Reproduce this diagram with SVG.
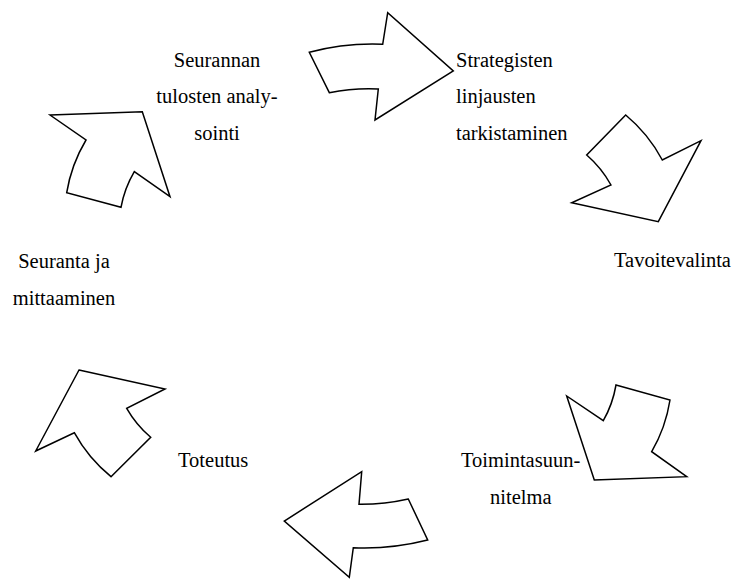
<svg xmlns="http://www.w3.org/2000/svg" width="737" height="579" viewBox="0 0 737 579">
<rect width="737" height="579" fill="#ffffff"/>
<g id="connectors" fill="#ffffff" stroke="#000000" stroke-width="1.5">
<path id="arrow-top" d="M309.3,52.3 A246,246 0 0,1 382.7,44.3 L387.7,12.7 L453.3,71 L375,120 L378.3,89 A201,201 0 0,0 329.3,92.7 Z"/>
<path id="arrow-topright" d="M625.7,115 A150,150 0 0,1 662.3,160 L701,140.7 L658.3,221.7 L571.7,202.7 L611,185 A110,110 0 0,0 586.7,155 Z"/>
<path id="arrow-bottomright" d="M616,385 L670,400 A150,150 0 0,1 651.7,451.7 L686.7,476.7 L594.3,480 L566.7,396 L603.3,420.7 A110,110 0 0,0 616,385 Z"/>
<path id="arrow-bottom" d="M361.7,471.7 L359,504.3 A214,214 0 0,0 408.3,499 L427.7,540 A256,256 0 0,1 353.3,547.7 L349.3,577.3 L284.3,521 Z"/>
<path id="arrow-bottomleft" d="M79,370 L165,389 L126.7,408.3 A110,110 0 0,0 150.7,437.3 L111,476.7 A150,150 0 0,1 74.3,432.7 L35.7,451 Z"/>
<path id="arrow-topleft" d="M50,115 L142.3,111.7 L170,196.7 L134.3,171.7 A110,110 0 0,0 121,207.3 L66.7,192.7 A150,150 0 0,1 86,140 Z"/>
</g>
<g id="node-strategiset">
<text x="456" y="66.5" font-family="Liberation Serif" font-size="20.5">Strategisten</text>
<text x="456" y="103" font-family="Liberation Serif" font-size="20.5">linjausten</text>
<text x="456" y="139.5" font-family="Liberation Serif" font-size="20.5">tarkistaminen</text>
</g>
<g id="node-tavoitevalinta">
<text x="614" y="267" font-family="Liberation Serif" font-size="20.5">Tavoitevalinta</text>
</g>
<g id="node-toimintasuunnitelma">
<text x="461" y="467" font-family="Liberation Serif" font-size="20.5">Toimintasuun-</text>
<text x="490" y="503.5" font-family="Liberation Serif" font-size="20.5">nitelma</text>
</g>
<g id="node-toteutus">
<text x="178" y="467" font-family="Liberation Serif" font-size="20.5">Toteutus</text>
</g>
<g id="node-seuranta">
<text x="64" y="268" font-family="Liberation Serif" font-size="20.5" text-anchor="middle">Seuranta ja</text>
<text x="64" y="304.5" font-family="Liberation Serif" font-size="20.5" text-anchor="middle">mittaaminen</text>
</g>
<g id="node-analysointi">
<text x="217" y="66.5" font-family="Liberation Serif" font-size="20.5" text-anchor="middle">Seurannan</text>
<text x="217" y="103" font-family="Liberation Serif" font-size="20.5" text-anchor="middle">tulosten analy-</text>
<text x="217" y="139.5" font-family="Liberation Serif" font-size="20.5" text-anchor="middle">sointi</text>
</g>
</svg>
